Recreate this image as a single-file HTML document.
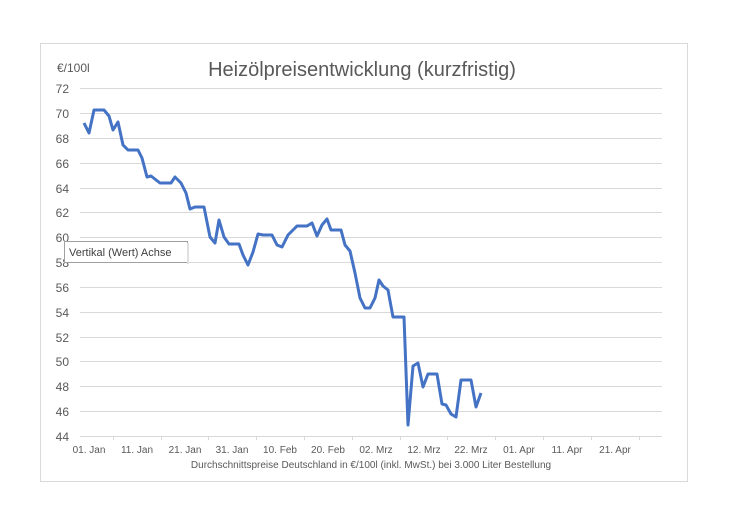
<!DOCTYPE html>
<html><head><meta charset="utf-8"><style>
body{margin:0;background:#fff;width:732px;height:524px;overflow:hidden}
svg text{font-family:"Liberation Sans",sans-serif;fill:#595959}
</style></head><body>
<svg width="732" height="524" xmlns="http://www.w3.org/2000/svg">
<rect x="40.5" y="43.5" width="647" height="438" fill="#fff" stroke="#d9d9d9"/>
<g stroke="#d9d9d9" stroke-width="1">
<line x1="80" x2="662" y1="88.5" y2="88.5"/><line x1="80" x2="662" y1="113.5" y2="113.5"/>
<line x1="80" x2="662" y1="138.5" y2="138.5"/><line x1="80" x2="662" y1="163.5" y2="163.5"/>
<line x1="80" x2="662" y1="188.5" y2="188.5"/><line x1="80" x2="662" y1="212.5" y2="212.5"/>
<line x1="80" x2="662" y1="237.5" y2="237.5"/><line x1="80" x2="662" y1="262.5" y2="262.5"/>
<line x1="80" x2="662" y1="287.5" y2="287.5"/><line x1="80" x2="662" y1="312.5" y2="312.5"/>
<line x1="80" x2="662" y1="337.5" y2="337.5"/><line x1="80" x2="662" y1="361.5" y2="361.5"/>
<line x1="80" x2="662" y1="386.5" y2="386.5"/><line x1="80" x2="662" y1="411.5" y2="411.5"/>
<line x1="80" x2="662" y1="436.5" y2="436.5"/>
<line x1="113.5" x2="113.5" y1="436" y2="440"/><line x1="161.5" x2="161.5" y1="436" y2="440"/>
<line x1="208.5" x2="208.5" y1="436" y2="440"/><line x1="256.5" x2="256.5" y1="436" y2="440"/>
<line x1="304.5" x2="304.5" y1="436" y2="440"/><line x1="352.5" x2="352.5" y1="436" y2="440"/>
<line x1="400.5" x2="400.5" y1="436" y2="440"/><line x1="447.5" x2="447.5" y1="436" y2="440"/>
<line x1="495.5" x2="495.5" y1="436" y2="440"/><line x1="543.5" x2="543.5" y1="436" y2="440"/>
<line x1="591.5" x2="591.5" y1="436" y2="440"/><line x1="639.5" x2="639.5" y1="436" y2="440"/>
</g>
<text x="362" y="76" font-size="20" text-anchor="middle">Heizölpreisentwicklung (kurzfristig)</text>
<text x="57" y="72" font-size="12">€/100l</text>
<g font-size="12" text-anchor="end">
<text x="69" y="93">72</text><text x="69" y="118">70</text><text x="69" y="143">68</text>
<text x="69" y="168">66</text><text x="69" y="193">64</text><text x="69" y="217">62</text>
<text x="69" y="242">60</text><text x="69" y="267">58</text><text x="69" y="292">56</text>
<text x="69" y="317">54</text><text x="69" y="342">52</text><text x="69" y="366">50</text>
<text x="69" y="391">48</text><text x="69" y="416">46</text><text x="69" y="441">44</text>
</g>
<g font-size="10" text-anchor="middle">
<text x="89" y="453">01. Jan</text><text x="137" y="453">11. Jan</text><text x="185" y="453">21. Jan</text>
<text x="232" y="453">31. Jan</text><text x="280" y="453">10. Feb</text><text x="328" y="453">20. Feb</text>
<text x="376" y="453">02. Mrz</text><text x="424" y="453">12. Mrz</text><text x="471" y="453">22. Mrz</text>
<text x="519" y="453">01. Apr</text><text x="567" y="453">11. Apr</text><text x="615" y="453">21. Apr</text>
</g>
<text x="371" y="468" font-size="10" text-anchor="middle">Durchschnittspreise Deutschland in €/100l (inkl. MwSt.) bei 3.000 Liter Bestellung</text>
<polyline fill="none" stroke="#4472c4" stroke-width="3" stroke-linejoin="round" points="84,123 89,133 94,110 104,110 109,116 113,130 118,122 123,145 128,150 138,150 142,158 147,177 151,176 160,183 171,183 175,177 181,183 186,193 190,209 195,207 204,207 210,237 215,243 219,220 224,237 229,244 239,244 243,255 248,265 253,252 258,234 263,235 272,235 277,245 282,247 288,235 297,226 307,226 312,223 317,236 322,225 327,219 331,230 341,230 345,245 350,251 355,273 360,298 365,308 370,308 375,298 379,280 383,286 388,290 393,317 404,317 408,425 413,366 418,363 423,387 428,374 437,374 442,404 446,405 451,414 456,417 461,380 471,380 476,407 481,393"/>
<rect x="64.5" y="241.5" width="123" height="21" fill="#fff" stroke="#a0a0a0"/>
<rect x="187" y="243" width="2" height="21" fill="#e0e0e0"/>
<text x="69" y="256" font-size="11" style="fill:#404040">Vertikal (Wert) Achse</text>
</svg>
</body></html>
